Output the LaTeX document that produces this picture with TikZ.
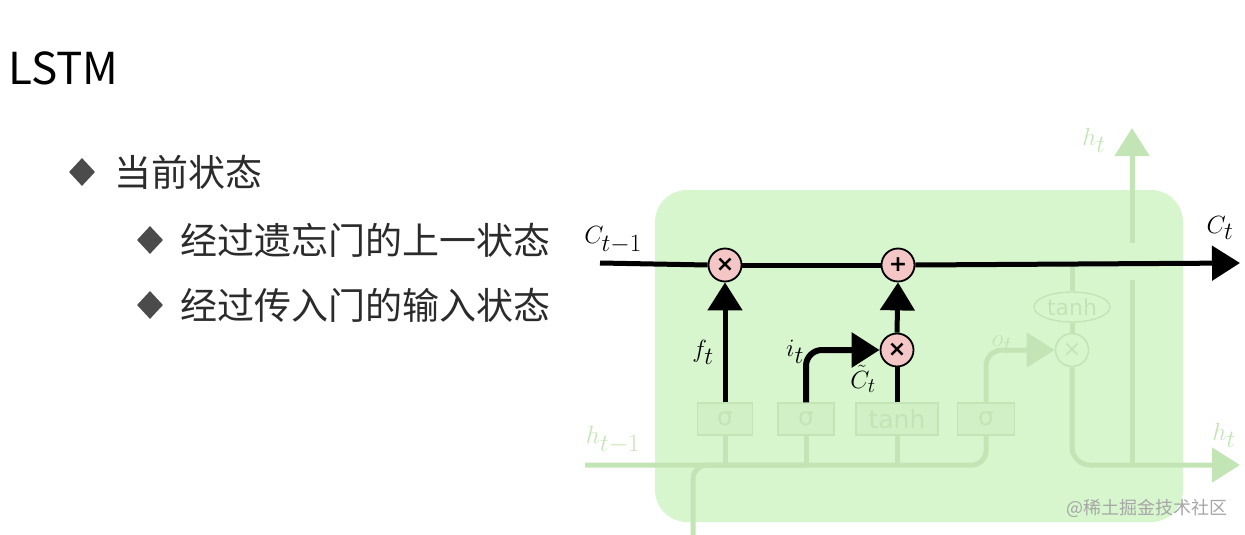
\documentclass[tikz,border=0pt]{standalone}
\usepackage{fontspec}
\setmainfont{Noto Sans CJK SC}
\newfontfamily\dvs{DejaVu Sans}
\usetikzlibrary{arrows.meta,shapes.geometric}
\definecolor{boxgreen}{HTML}{D8F6CE}
\definecolor{faint}{HTML}{C3E5B5}
\definecolor{faintbox}{HTML}{D1F0C6}
\definecolor{pinkop}{HTML}{F5C6C6}
\definecolor{txt}{HTML}{2B2B2B}
\tikzset{
  cjk/.style={font=\fontsize{37}{37}\selectfont, text=txt, anchor=west, inner sep=0},
  bul/.style={diamond, fill=txt!85, minimum width=26pt, minimum height=28pt, inner sep=0},
  op/.style={circle, draw=black, line width=1.8pt, fill=pinkop, minimum size=33pt, inner sep=0, font=\dvs\bfseries\fontsize{22}{22}\selectfont},
  fop/.style={circle, draw=faint, line width=1.6pt, fill=boxgreen, minimum size=33pt, inner sep=0, text=faint, font=\dvs\fontsize{22}{22}\selectfont},
  gate/.style={rectangle, draw=faint, line width=1.4pt, fill=faintbox, minimum height=32pt, inner sep=0, text=faint, font=\dvs\fontsize{25}{25}\selectfont},
  bold/.style={line width=5pt, draw=black},
  fline/.style={line width=5pt, draw=faint},
  bigtip/.style={-{Triangle[length=28pt,width=34pt]}},
  fbigtip/.style={-{Triangle[length=28pt,width=34pt,color=faint]}},
  lab/.style={font=\fontsize{33}{33}\selectfont, inner sep=0},
  flab/.style={font=\fontsize{33}{33}\selectfont, inner sep=0, text=faint},
}
\begin{document}
\begin{tikzpicture}[x=1pt,y=-1pt]
\useasboundingbox (0,0) rectangle (1245,535);
% text
\node[font=\fontsize{44}{44}\selectfont, text=black, anchor=west, inner sep=0] (title) at (8,68) {LSTM};
\node[bul] (b1) at (82,172) {};
\node[cjk] (t1) at (114,172) {当前状态};
\node[bul] (b2) at (150,240) {};
\node[cjk] (t2) at (180,240) {经过遗忘门的上一状态};
\node[bul] (b3) at (150,305) {};
\node[cjk] (t3) at (180,305) {经过传入门的输入状态};
% cell box
\node[draw=none, fill=boxgreen, rounded corners=32pt, minimum width=528pt, minimum height=332pt, inner sep=0] (cell) at (919,356) {};
% faint elements
\coordinate (hin) at (585,465);
\coordinate (hout) at (1240,465);
\coordinate (xin) at (693,540);
\coordinate (htop) at (1132,128);
\coordinate (cjoin) at (1072,263);
\coordinate (hjoin) at (1132,465);
\coordinate (gapl) at (1132,280);
\coordinate (gapu) at (1132,243);
\node[gate, minimum width=55pt] (g1) at (725,419) {σ};
\node[gate, minimum width=56pt] (g2) at (806,419) {σ};
\node[gate, minimum width=82pt] (g3) at (897,419) {tanh};
\node[gate, minimum width=57pt] (g4) at (986,419) {σ};
\node[fop] (m3) at (1072,350) {×};
\node[ellipse, draw=faint, line width=1.4pt, fill=boxgreen, minimum width=76pt, minimum height=30pt, inner sep=0, text=faint, font=\dvs\fontsize{22}{22}\selectfont] (th) at (1072,307) {tanh};
\draw[fline, rounded corners=14pt] (hin) -| (g4.south);
\draw[fline, rounded corners=14pt] (xin) |- (g2.south |- hin);
\draw[fline] (g1.south) -- (g1.south |- hin);
\draw[fline] (g2.south) -- (g2.south |- hin);
\draw[fline] (g3.south) -- (g3.south |- hin);
\draw[fline, rounded corners=16pt, fbigtip] (g4.north) |- (m3.west);
\draw[fline] (cjoin) -- (th.north);
\draw[fline] (th.south) -- (m3.north);
\draw[fline, rounded corners=18pt, fbigtip] (m3.south) |- (hout);
\draw[fline] (hjoin) -- (gapl);
\draw[fline, fbigtip] (gapu) -- (htop);
\node[flab] (lht1) at (1094,140) {$h_t$};
\node[flab] (lht2) at (1224,435) {$h_t$};
\node[flab] (lhtm) at (613,440) {$h_{t-1}$};
\node[flab] (lot) at (1002,345) {$o_t$};
% main cell-state line
\coordinate (cin) at (600,263);
\coordinate (cout) at (1240,263);
\node[op] (m1) at (725,265) {×};
\node[op] (p1) at (898,265) {+};
\node[op] (m2) at (897,350) {×};
\draw[bold] (cin) -- (m1.west);
\draw[bold] (m1.east) -- (p1.west);
\draw[bold, bigtip] (p1.east) -- (cout);
\draw[bold, bigtip] (g1.north) -- (m1.south);
\draw[bold, line width=6pt, rounded corners=16pt, bigtip] (g2.north) |- (m2.west);
\draw[bold] (g3.north) -- (m2.south);
\draw[bold, bigtip] (m2.north) -- (p1.south);
\node[lab] (lc1) at (613,240) {$C_{t-1}$};
\node[lab] (lc2) at (1220,228) {$C_t$};
\node[lab] (lf) at (703,352) {$f_t$};
\node[lab] (li) at (795,352) {$i_t$};
\node[lab, font=\fontsize{30}{30}\selectfont] (lct) at (863,379) {$\tilde{C}_t$};
% watermark
\node[font=\fontsize{18}{18}\selectfont, text=gray!70, anchor=east, inner sep=0] (wm) at (1228,508) {@稀土掘金技术社区};
\end{tikzpicture}
\end{document}
